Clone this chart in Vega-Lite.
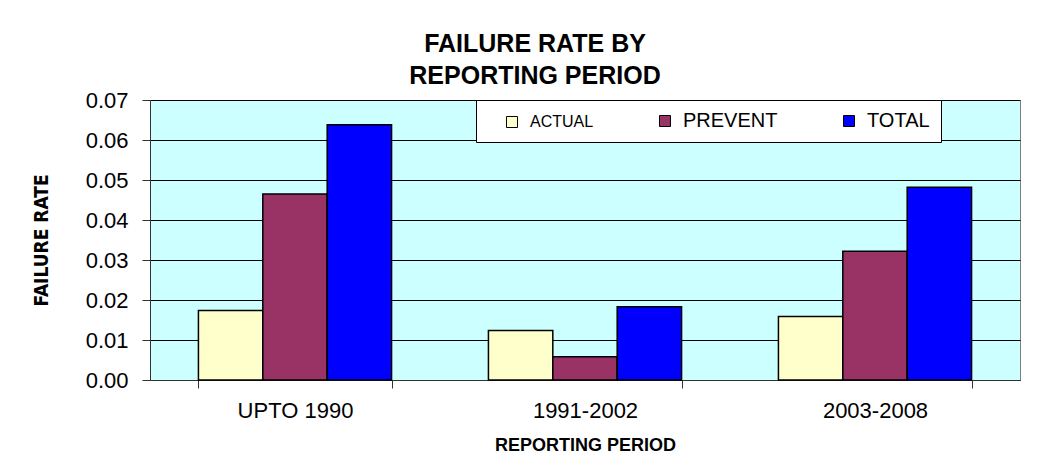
{
  "$schema": "https://vega.github.io/schema/vega-lite/v6.json",
  "width": 870,
  "height": 280,
  "autosize": {"type": "none"},
  "padding": {"left": 150, "top": 100, "right": 30, "bottom": 89},
  "background": "white",
  "title": {
    "text": ["FAILURE RATE BY", "REPORTING PERIOD"],
    "font": "Liberation Sans",
    "fontSize": 25,
    "fontWeight": "bold",
    "color": "black",
    "lineHeight": 32,
    "anchor": "middle",
    "dx": -50,
    "offset": 0
  },
  "data": {
    "values": [
      {"period": "UPTO 1990", "series": "ACTUAL", "value": 0.0174},
      {"period": "UPTO 1990", "series": "PREVENT", "value": 0.0465},
      {"period": "UPTO 1990", "series": "TOTAL", "value": 0.0638},
      {"period": "1991-2002", "series": "ACTUAL", "value": 0.0124},
      {"period": "1991-2002", "series": "PREVENT", "value": 0.0058},
      {"period": "1991-2002", "series": "TOTAL", "value": 0.0183},
      {"period": "2003-2008", "series": "ACTUAL", "value": 0.0159},
      {"period": "2003-2008", "series": "PREVENT", "value": 0.0322},
      {"period": "2003-2008", "series": "TOTAL", "value": 0.0482}
    ]
  },
  "mark": {"type": "bar", "stroke": "black", "strokeWidth": 1.5},
  "encoding": {
    "x": {
      "field": "period",
      "type": "nominal",
      "sort": ["UPTO 1990", "1991-2002", "2003-2008"],
      "scale": {"paddingInner": 0.334, "paddingOuter": 0.167},
      "axis": {
        "title": "REPORTING PERIOD",
        "titleFont": "Liberation Sans",
        "titleFontSize": 18,
        "titleFontWeight": "bold",
        "titleColor": "black",
        "titlePadding": 15,
        "labelFont": "Liberation Sans",
        "labelFontSize": 22,
        "labelColor": "black",
        "labelAngle": 0,
        "labelPadding": 12,
        "tickBand": "extent",
        "tickSize": 8,
        "tickColor": "#333",
        "domainColor": "#333",
        "grid": false
      }
    },
    "xOffset": {
      "field": "series",
      "type": "nominal",
      "sort": ["ACTUAL", "PREVENT", "TOTAL"],
      "scale": {"paddingInner": 0, "paddingOuter": 0}
    },
    "y": {
      "field": "value",
      "type": "quantitative",
      "scale": {"domain": [0, 0.07], "nice": false},
      "axis": {
        "title": "FAILURE RATE",
        "titleFont": "Liberation Sans Narrow, DejaVu Sans Condensed, Liberation Sans",
        "titleFontSize": 19,
        "titleFontWeight": "bold",
        "titleColor": "black",
        "titlePadding": 34,
        "values": [0, 0.01, 0.02, 0.03, 0.04, 0.05, 0.06, 0.07],
        "format": ".2f",
        "labelFont": "Liberation Sans",
        "labelFontSize": 22,
        "labelColor": "black",
        "labelPadding": 14,
        "tickSize": 8,
        "tickColor": "#333",
        "domainColor": "#333",
        "grid": true,
        "gridColor": "black",
        "gridWidth": 1
      }
    },
    "color": {
      "field": "series",
      "type": "nominal",
      "sort": ["ACTUAL", "PREVENT", "TOTAL"],
      "scale": {"domain": ["ACTUAL", "PREVENT", "TOTAL"], "range": ["#FFFFCC", "#993366", "#0000FF"]},
      "legend": {
        "title": null,
        "orient": "none",
        "legendX": 326,
        "legendY": 0,
        "direction": "horizontal",
        "columns": 3,
        "fillColor": "white",
        "strokeColor": "black",
        "padding": 11,
        "columnPadding": 46,
        "symbolOffset": 15,
        "symbolType": "square",
        "symbolSize": 121,
        "symbolStrokeColor": "black",
        "symbolStrokeWidth": 1,
        "symbolOpacity": 1,
        "labelFont": "Liberation Sans",
        "labelFontSize": 20,
        "labelColor": "black",
        "labelOffset": 8,
        "encode": {
          "labels": {"update": {"fontSize": {"signal": "datum.value == 'ACTUAL' ? 16 : 20"}}}
        }
      }
    }
  },
  "config": {
    "view": {"fill": "#CCFFFF", "stroke": "#808080", "strokeWidth": 1}
  }
}
